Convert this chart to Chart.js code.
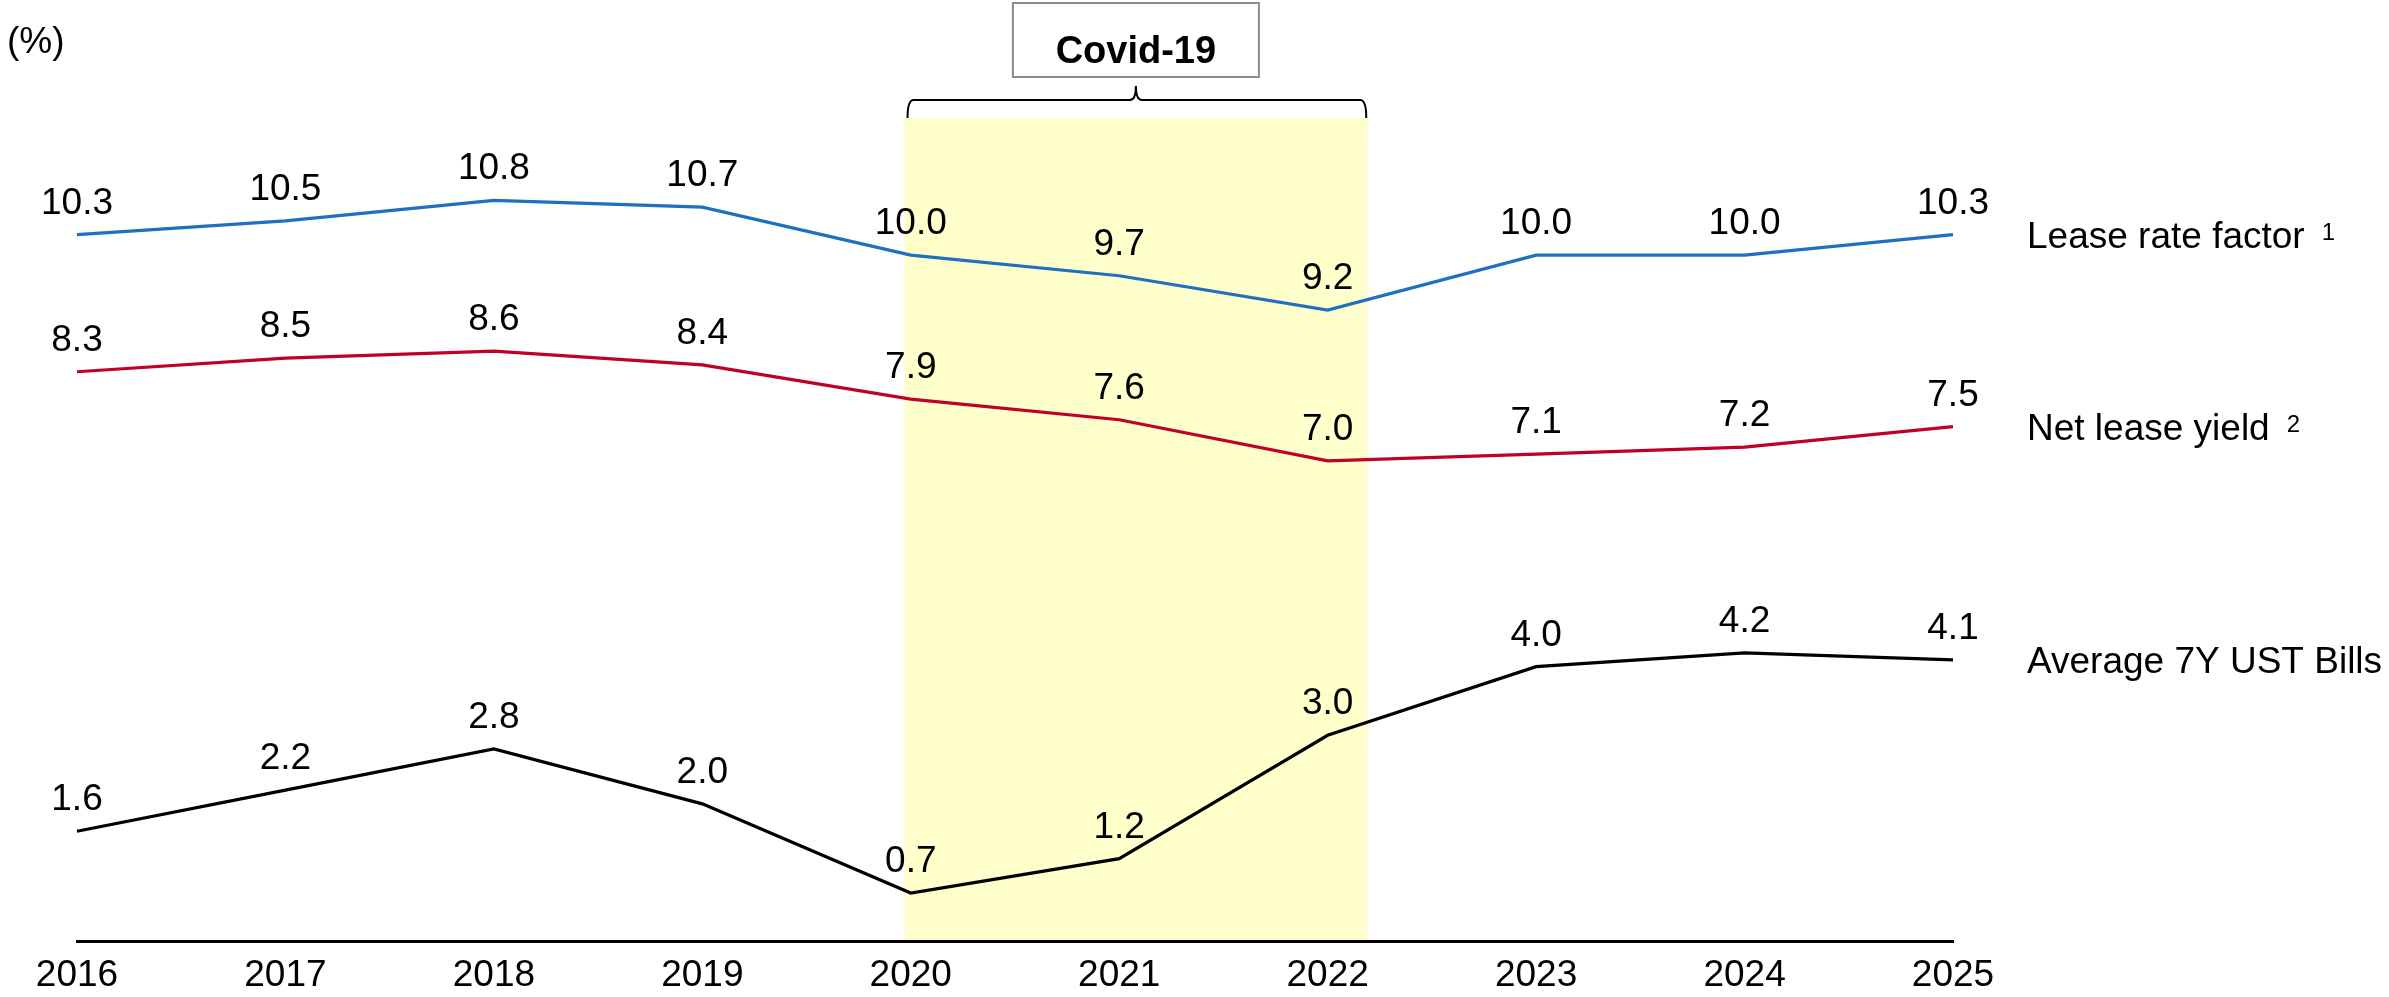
<!DOCTYPE html>
<html>
<head>
<meta charset="utf-8">
<script src="https://cdn.jsdelivr.net/npm/chart.js@4.4.1/dist/chart.umd.min.js"></script>
<style>
  html, body { margin: 0; padding: 0; background: #fff; }
  #wrap { width: 2389px; height: 997px; position: relative; }
</style>
</head>
<body>
<div id="wrap"><canvas id="lineChart"></canvas></div>
<script>
// data
var years = ["2016","2017","2018","2019","2020","2021","2022","2023","2024","2025"];
var leaseRateFactor = [10.3, 10.5, 10.8, 10.7, 10.0, 9.7, 9.2, 10.0, 10.0, 10.3];
var netLeaseYield   = [8.3, 8.5, 8.6, 8.4, 7.9, 7.6, 7.0, 7.1, 7.2, 7.5];
var ust7y           = [1.6, 2.2, 2.8, 2.0, 0.7, 1.2, 3.0, 4.0, 4.2, 4.1];
var seriesNames = ["Lease rate factor", "Net lease yield", "Average 7Y UST Bills"];
var seriesNotes = ["1", "2", ""];
// covid shading, in category index units
var covidFrom = 3.97;
var covidTo = 6.19;

var FONT = '"Liberation Sans", Arial, sans-serif';

var covidPlugin = {
  id: 'covid',
  beforeDraw: function(chart) {
    var ctx = chart.ctx, a = chart.chartArea, x = chart.scales.x;
    var x1 = x.getPixelForValue(covidFrom), x2 = x.getPixelForValue(covidTo);
    ctx.save();
    ctx.fillStyle = '#FFFFCC';
    ctx.fillRect(x1, a.top, x2 - x1, a.bottom - a.top);

    // brace over the shaded band
    var mid = (x1 + x2) / 2, yb = a.top - 18, r = 6;
    ctx.strokeStyle = '#000';
    ctx.lineWidth = 2;
    ctx.beginPath();
    ctx.moveTo(x1 + 3, a.top);
    ctx.quadraticCurveTo(x1 + 3, yb, x1 + 3 + r, yb);
    ctx.lineTo(mid - r, yb);
    ctx.quadraticCurveTo(mid, yb, mid, yb - 14);
    ctx.quadraticCurveTo(mid, yb, mid + r, yb);
    ctx.lineTo(x2 - 1 - r, yb);
    ctx.quadraticCurveTo(x2 - 1, yb, x2 - 1, a.top);
    ctx.stroke();

    // label box
    ctx.strokeStyle = '#8c8c8c';
    ctx.lineWidth = 2;
    ctx.fillStyle = '#fff';
    ctx.fillRect(mid - 123, 3, 246, 74);
    ctx.strokeRect(mid - 123, 3, 246, 74);
    ctx.fillStyle = '#000';
    ctx.font = 'bold 38px ' + FONT;
    ctx.textAlign = 'center';
    ctx.textBaseline = 'alphabetic';
    ctx.fillText('Covid-19', mid, 63);
    ctx.restore();
  }
};

var labelPlugin = {
  id: 'valueLabels',
  afterDatasetsDraw: function(chart) {
    var ctx = chart.ctx, a = chart.chartArea;
    ctx.save();
    ctx.fillStyle = '#000';
    ctx.textBaseline = 'alphabetic';
    chart.data.datasets.forEach(function(ds, i) {
      var meta = chart.getDatasetMeta(i);
      ctx.font = '37px ' + FONT;
      ctx.textAlign = 'center';
      meta.data.forEach(function(pt, j) {
        ctx.fillText(ds.data[j].toFixed(1), pt.x, pt.y - 21);
      });
      // series name at the right end
      var last = meta.data[meta.data.length - 1];
      var tx = a.right + 74, ty = last.y + 13;
      ctx.textAlign = 'left';
      ctx.fillText(seriesNames[i], tx, ty);
      if (seriesNotes[i]) {
        var w = ctx.measureText(seriesNames[i]).width;
        ctx.font = '24px ' + FONT;
        ctx.fillText(seriesNotes[i], tx + w + 17, ty - 8);
      }
    });
    ctx.font = '37px ' + FONT;
    ctx.textAlign = 'left';
    ctx.fillText('(%)', 7, 53);
    ctx.restore();
  }
};

var lineDiv = document.getElementById('lineChart');
var newChart = new Chart(lineDiv, {
  type: 'line',
  data: {
    labels: years,
    datasets: [
      { label: seriesNames[0], data: leaseRateFactor, borderColor: '#1F70C0' },
      { label: seriesNames[1], data: netLeaseYield, borderColor: '#C00028' },
      { label: seriesNames[2], data: ust7y, borderColor: '#000000' }
    ]
  },
  options: {
    responsive: true,
    maintainAspectRatio: false,
    animation: false,
    events: [],
    layout: { padding: { left: 77, right: 436, top: 118, bottom: 0 } },
    elements: {
      line: { borderWidth: 3.2, tension: 0, fill: false },
      point: { radius: 0 }
    },
    plugins: {
      legend: { display: false },
      tooltip: { enabled: false }
    },
    scales: {
      x: {
        offset: false,
        grid: { display: false, drawTicks: false },
        border: { display: true, color: '#000', width: 3 },
        ticks: { color: '#000', font: { family: FONT, size: 37 }, padding: 13, maxRotation: 0, autoSkip: false },
        afterFit: function(s) { s.height = 56; }
      },
      y: {
        display: false,
        min: 0,
        max: 12
      }
    }
  },
  plugins: [covidPlugin, labelPlugin]
});
</script>
</body>
</html>
